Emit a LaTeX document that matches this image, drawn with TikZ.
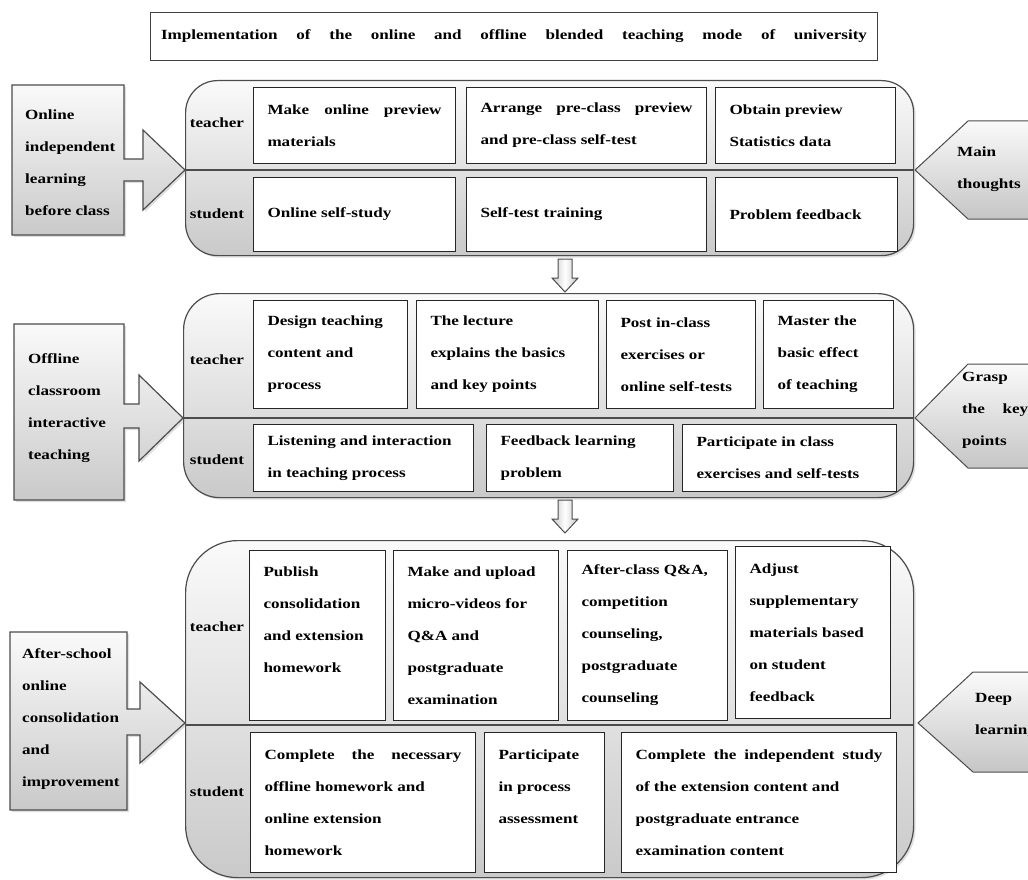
\documentclass[tikz,border=0pt]{standalone}
\usepackage{fontspec}
\setmainfont{Liberation Serif}[FakeStretch=1.22]
\usetikzlibrary{shadows}
\hyphenpenalty=10000
\exhyphenpenalty=10000
\newcommand{\cellfont}{\bfseries\fontsize{14}{32}\selectfont}
\tikzset{
  stagebox/.style={draw=black!70, line width=1.2pt, top color=gray!4, bottom color=gray!42,
    drop shadow={opacity=0.25, shadow xshift=2pt, shadow yshift=-2pt}},
  taskbox/.style={draw=black!85, line width=1pt, fill=white, anchor=north west,
    inner xsep=14pt, inner ysep=0pt, align=justify, font=\cellfont},
  rolename/.style={font=\cellfont},
  sidetext/.style={font=\cellfont, align=left, anchor=west, inner sep=0pt},
  aimbox/.style={draw=black!70, line width=1pt, top color=gray!4, bottom color=gray!45},
  downarrow/.style={draw=black!70, line width=1pt, left color=gray!45, right color=gray!45, middle color=white},
  divider/.style={draw=black!70, line width=1.2pt}
}

\begin{document}
\begin{tikzpicture}[x=1pt, y=-1pt]
\useasboundingbox (0,0) rectangle (1028,880);

% title
\node[draw=black!75, line width=1pt, minimum width=727, minimum height=48, anchor=north west, inner sep=0pt, font=\cellfont] (title) at (150,12)
  {\makebox[706pt][s]{Implementation of the online and offline blended teaching mode of university}};

% stages
\node[stagebox, rounded corners=32pt, minimum width=728, minimum height=175, anchor=north west] (pre) at (185,80) {};
\node[stagebox, rounded corners=36pt, minimum width=730, minimum height=204, anchor=north west] (cls) at (183,293) {};
\node[stagebox, rounded corners=52pt, minimum width=728, minimum height=337, anchor=north west] (post) at (185,540) {};
\draw[divider] (185,170) -- (913,170);
\draw[divider] (183,418) -- (913,418);
\draw[divider] (185,725) -- (913,725);

\node[rolename] (tch1) at (217,123) {teacher};
\node[rolename] (stu1) at (217,214) {student};
\node[rolename] (tch2) at (217,360) {teacher};
\node[rolename] (stu2) at (217,460) {student};
\node[rolename] (tch3) at (217,627) {teacher};
\node[rolename] (stu3) at (217,792) {student};

% before class
\node[taskbox, text width=174, minimum height=76] (t11) at (253,87) {Make online preview\linebreak materials};
\node[taskbox, text width=212, minimum height=76] (t12) at (466,87) {Arrange pre-class preview\linebreak and pre-class self-test};
\node[taskbox, text width=152, minimum height=76] (t13) at (715,87) {Obtain preview\\Statistics data};
\node[taskbox, text width=174, minimum height=74] (s11) at (253,177) {Online self-study};
\node[taskbox, text width=212, minimum height=74] (s12) at (466,177) {Self-test training};
\node[taskbox, text width=154, minimum height=74] (s13) at (715,177) {Problem feedback};

% in class
\node[taskbox, text width=126, minimum height=108] (t21) at (253,300) {Design teaching\\content and\\process};
\node[taskbox, text width=154, minimum height=108] (t22) at (416,300) {The lecture\\explains the basics\\and key points};
\node[taskbox, text width=121, minimum height=108] (t23) at (606,300) {Post in-class\\exercises or\\online self-tests};
\node[taskbox, text width=102, minimum height=108] (t24) at (763,300) {Master the\\basic effect\\of teaching};
\node[taskbox, text width=192, minimum height=67] (s21) at (253,424) {Listening and interaction\\in teaching process};
\node[taskbox, text width=159, minimum height=67] (s22) at (486,424) {Feedback learning\\problem};
\node[taskbox, text width=186, minimum height=67] (s23) at (682,424) {Participate in class\\exercises and self-tests};

% after class
\node[taskbox, text width=108, minimum height=170] (t31) at (249,550) {Publish\\consolidation\\and extension\\homework\\\mbox{}};
\node[taskbox, text width=137, minimum height=170] (t32) at (393,550) {Make and upload\\micro-videos for\\Q\&A and\\postgraduate\\examination};
\node[taskbox, text width=132, minimum height=170] (t33) at (567,550) {After-class Q\&A,\\competition\\counseling,\\postgraduate\\counseling};
\node[taskbox, text width=127, minimum height=172] (t34) at (735,546) {Adjust\\supplementary\\materials based\\on student\\feedback};
\node[taskbox, text width=197, minimum height=140] (s31) at (250,732) {Complete the necessary\linebreak offline homework and\\online extension\\homework};
\node[taskbox, text width=92, minimum height=140] (s32) at (484,732) {Participate\\in process\\assessment\\\mbox{}};
\node[taskbox, text width=247, minimum height=140] (s33) at (621,732) {Complete the independent study\linebreak of the extension content and\\postgraduate entrance\\examination content};

% links between stages
\path[downarrow] (558,259) -- (572,259) -- (572,278) -- (578,278) -- (565,292) -- (552,278) -- (558,278) -- cycle;
\path[downarrow] (558,500) -- (572,500) -- (572,519) -- (578,519) -- (565,533) -- (552,519) -- (558,519) -- cycle;

% left callouts
\path[stagebox] (12,85) -- (124,85) -- (124,159) -- (143,159) -- (143,130) -- (185,170) -- (143,210) -- (143,181) -- (124,181) -- (124,235) -- (12,235) -- cycle;
\path[stagebox] (14,324) -- (124,324) -- (124,404) -- (139,404) -- (139,375) -- (183,418) -- (139,461) -- (139,428) -- (124,428) -- (124,500) -- (14,500) -- cycle;
\path[stagebox] (10,632) -- (127,632) -- (127,709) -- (140,709) -- (140,682) -- (185,723) -- (140,763) -- (140,735) -- (127,735) -- (127,810) -- (10,810) -- cycle;
\node[sidetext] (ph1) at (25,163) {Online\\independent\\learning\\before class};
\node[sidetext] (ph2) at (28,408) {Offline\\classroom\\interactive\\teaching};
\node[sidetext] (ph3) at (22,719) {After-school\\online\\consolidation\\and\\improvement};

% right aims
\path[aimbox] (915,170) -- (968,121) -- (1040,121) -- (1040,219) -- (968,219) -- cycle;
\path[aimbox] (915,418) -- (968,364) -- (1040,364) -- (1040,468) -- (968,468) -- cycle;
\path[aimbox] (918,723) -- (973,672) -- (1040,672) -- (1040,772) -- (973,772) -- cycle;
\node[sidetext] (aim1) at (957,169) {Main\\thoughts};
\node[sidetext, text width=66, align=justify] (aim2) at (962,410) {Grasp\\the key\linebreak points};
\node[sidetext] (aim3) at (975,715) {Deep\\learning};
\end{tikzpicture}
\end{document}
